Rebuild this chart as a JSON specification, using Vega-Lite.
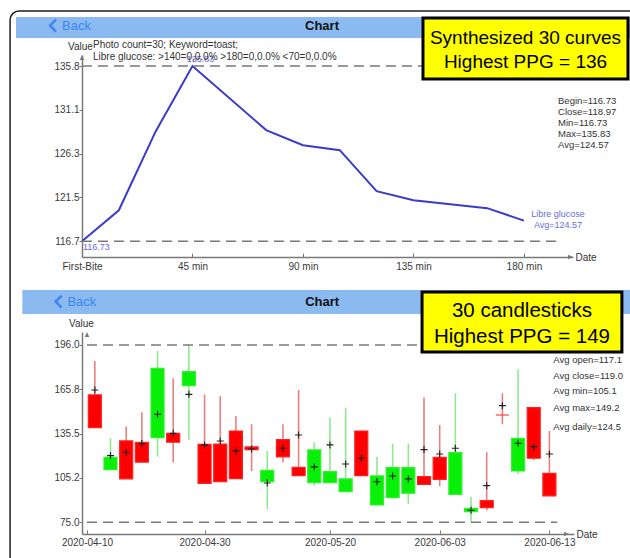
{
  "$schema": "https://vega.github.io/schema/vega-lite/v6.json",
  "autosize": {"type": "none"},
  "padding": {"left": 82, "top": 55, "right": 548, "bottom": 503},
  "background": "white",
  "bounds": "flush",
  "spacing": 75,
  "config": {
    "view": {"stroke": null},
    "font": "Liberation Sans",
    "text": {"font": "Liberation Sans"},
    "axis": {
      "grid": false, "domainColor": "#7a7a7a", "domainWidth": 1.5, "tickColor": "#7a7a7a", "tickWidth": 1,
      "labelColor": "#3a3a3a", "labelFontSize": 10, "labelFont": "Liberation Sans", "labelFlush": false, "labelOverlap": false,
      "titleFont": "Liberation Sans", "titleFontSize": 10, "titleFontWeight": "normal", "titleColor": "#333333"
    }
  },
  "datasets": {
    "glucose": [
      {"minute": 0, "glucose": 116.73},
      {"minute": 15, "glucose": 120.1},
      {"minute": 30, "glucose": 128.7},
      {"minute": 45, "glucose": 135.83},
      {"minute": 75, "glucose": 128.85},
      {"minute": 90, "glucose": 127.2},
      {"minute": 105, "glucose": 126.66},
      {"minute": 120, "glucose": 122.19},
      {"minute": 135, "glucose": 121.2},
      {"minute": 165, "glucose": 120.33},
      {"minute": 180, "glucose": 118.97}
    ],
    "candles": [
      {"k": 0, "open": 139.6, "close": 161.9, "high": 185.1, "low": 139.6, "avg": 165.3},
      {"k": 1, "open": 119.3, "close": 110.9, "high": 132.3, "low": 110.9, "avg": 120.5},
      {"k": 2, "open": 104.6, "close": 130.5, "high": 140.3, "low": 104.6, "avg": 122.8},
      {"k": 3, "open": 116.0, "close": 129.6, "high": 150.1, "low": 116.0, "avg": 128.7},
      {"k": 4, "open": 180.1, "close": 132.8, "high": 191.9, "low": 119.8, "avg": 148.7},
      {"k": 5, "open": 129.6, "close": 135.7, "high": 173.3, "low": 116.0, "avg": 135.7},
      {"k": 6, "open": 177.8, "close": 168.3, "high": 196.0, "low": 131.2, "avg": 162.3},
      {"k": 7, "open": 101.6, "close": 128.2, "high": 162.3, "low": 101.6, "avg": 127.8},
      {"k": 8, "open": 102.7, "close": 128.4, "high": 161.2, "low": 102.7, "avg": 130.5},
      {"k": 9, "open": 104.8, "close": 137.3, "high": 147.6, "low": 104.8, "avg": 123.7},
      {"k": 10, "open": 124.6, "close": 126.4, "high": 141.9, "low": 110.0, "avg": 125.0},
      {"k": 11, "open": 110.5, "close": 102.7, "high": 123.7, "low": 84.1, "avg": 101.8},
      {"k": 12, "open": 119.6, "close": 131.4, "high": 141.9, "low": 116.0, "avg": 125.5},
      {"k": 13, "open": 106.8, "close": 112.5, "high": 165.3, "low": 106.8, "avg": 134.6},
      {"k": 14, "open": 124.4, "close": 102.1, "high": 129.6, "low": 100.0, "avg": 112.8},
      {"k": 15, "open": 109.6, "close": 102.1, "high": 146.4, "low": 102.1, "avg": 127.8},
      {"k": 16, "open": 104.6, "close": 95.9, "high": 153.2, "low": 95.9, "avg": 114.8},
      {"k": 17, "open": 106.8, "close": 137.3, "high": 137.3, "low": 106.8, "avg": 118.7},
      {"k": 18, "open": 106.6, "close": 86.8, "high": 119.8, "low": 86.8, "avg": 102.7},
      {"k": 19, "open": 112.3, "close": 91.8, "high": 128.7, "low": 91.8, "avg": 106.6},
      {"k": 20, "open": 112.3, "close": 94.8, "high": 128.7, "low": 87.5, "avg": 104.6},
      {"k": 21, "open": 100.9, "close": 106.2, "high": 160.1, "low": 100.9, "avg": 124.6},
      {"k": 22, "open": 104.3, "close": 119.3, "high": 141.4, "low": 99.6, "avg": 121.6},
      {"k": 23, "open": 122.5, "close": 94.1, "high": 163.0, "low": 94.1, "avg": 125.5},
      {"k": 24, "open": 84.5, "close": 82.3, "high": 92.5, "low": 75.0, "avg": 83.2},
      {"k": 25, "open": 85.0, "close": 89.8, "high": 122.8, "low": 83.2, "avg": 100.0},
      {"k": 26, "open": 148.2, "close": 148.2, "high": 163.0, "low": 141.9, "avg": 154.6},
      {"k": 27, "open": 132.3, "close": 110.0, "high": 179.4, "low": 107.7, "avg": 128.9},
      {"k": 28, "open": 118.7, "close": 153.2, "high": 153.2, "low": 117.5, "avg": 126.6},
      {"k": 29, "open": 93.0, "close": 108.4, "high": 137.3, "low": 93.0, "avg": 121.6}
    ]
  },
  "vconcat": [
    {
      "width": 491,
      "height": 202,
      "layer": [
        {
          "data": {"name": "glucose"},
          "mark": {"type": "line", "color": "#3b3bc9", "strokeWidth": 2},
          "encoding": {
            "x": {"field": "minute", "type": "quantitative", "scale": {"domain": [0, 200], "nice": false, "zero": false},
              "axis": {"values": [0, 45, 90, 135, 180], "labelExpr": "datum.value == 0 ? 'First-Bite' : datum.value + ' min'", "tickSize": -4, "labelPadding": 8,
                "title": "Date", "titleX": 493, "titleY": 0, "titleAlign": "left", "titleBaseline": "middle", "titleAngle": 0}},
            "y": {"field": "glucose", "type": "quantitative", "scale": {"domain": [115, 137.04], "nice": false, "zero": false},
              "axis": {"values": [116.73, 121.505, 126.28, 131.055, 135.83], "format": ".1f", "tickSize": 3, "labelPadding": 0,
                "title": "Value", "titleX": -2, "titleY": -4, "titleAlign": "center", "titleBaseline": "bottom", "titleAngle": 0}}
          }
        },
        {
          "data": {"values": [{"x1": -29.3, "x2": 232, "y1": 79, "y2": 141.84}]},
          "mark": {"type": "rect", "fillOpacity": 0, "stroke": "#1e1e1e", "strokeWidth": 1.5, "cornerRadius": 9},
          "encoding": {
            "x": {"field": "x1", "type": "quantitative", "scale": {"domain": [0, 200], "nice": false, "zero": false}},
            "x2": {"field": "x2"},
            "y": {"field": "y1", "type": "quantitative", "scale": {"domain": [115, 137.04], "nice": false, "zero": false}},
            "y2": {"field": "y2"}
          }
        },
        {
          "data": {"values": [{"x1": -26.88, "x2": 232, "y1": 138.89, "y2": 141.18}]},
          "mark": {"type": "rect", "color": "#8abaf0"},
          "encoding": {
            "x": {"field": "x1", "type": "quantitative", "scale": {"domain": [0, 200], "nice": false, "zero": false}},
            "x2": {"field": "x2"},
            "y": {"field": "y1", "type": "quantitative", "scale": {"domain": [115, 137.04], "nice": false, "zero": false}},
            "y2": {"field": "y2"}
          }
        },
        {
          "data": {"values": [{"x": -11.81, "y": 140.25}]},
          "mark": {"type": "point", "shape": "M0.5,-1L-0.5,0L0.5,1", "size": 144, "filled": false, "stroke": "#3d85f0", "strokeWidth": 2.5, "opacity": 1},
          "encoding": {
            "x": {"field": "x", "type": "quantitative", "scale": {"domain": [0, 200], "nice": false, "zero": false}},
            "y": {"field": "y", "type": "quantitative", "scale": {"domain": [115, 137.04], "nice": false, "zero": false}}
          }
        },
        {
          "data": {"values": [{"x": -8.15, "y": 140.25, "label": "Back"}]},
          "mark": {"type": "text", "align": "left", "baseline": "middle", "fontSize": 13, "color": "#3d85f0"},
          "encoding": {
            "x": {"field": "x", "type": "quantitative", "scale": {"domain": [0, 200], "nice": false, "zero": false}},
            "y": {"field": "y", "type": "quantitative", "scale": {"domain": [115, 137.04], "nice": false, "zero": false}},
            "text": {"field": "label"}
          }
        },
        {
          "data": {"values": [{"x": 97.76, "y": 140.25, "label": "Chart"}]},
          "mark": {"type": "text", "align": "center", "baseline": "middle", "fontSize": 13, "fontWeight": "bold", "color": "#111111"},
          "encoding": {
            "x": {"field": "x", "type": "quantitative", "scale": {"domain": [0, 200], "nice": false, "zero": false}},
            "y": {"field": "y", "type": "quantitative", "scale": {"domain": [115, 137.04], "nice": false, "zero": false}},
            "text": {"field": "label"}
          }
        },
        {
          "data": {"values": [{"level": 135.83}, {"level": 116.73}]},
          "mark": {"type": "rule", "strokeDash": [10, 6], "color": "#7a7a7a", "strokeWidth": 1.5},
          "encoding": {
            "x": {"datum": 0, "type": "quantitative", "scale": {"domain": [0, 200], "nice": false, "zero": false}},
            "x2": {"datum": 194.7},
            "y": {"field": "level", "type": "quantitative", "scale": {"domain": [115, 137.04], "nice": false, "zero": false}}
          }
        },
        {
          "data": {"name": "glucose"},
          "transform": [{"filter": "datum.minute == 45"}],
          "mark": {"type": "text", "dx": 8, "dy": -7, "align": "center", "baseline": "middle", "fontSize": 9, "color": "#6a6adc"},
          "encoding": {
            "x": {"field": "minute", "type": "quantitative", "scale": {"domain": [0, 200], "nice": false, "zero": false}},
            "y": {"field": "glucose", "type": "quantitative", "scale": {"domain": [115, 137.04], "nice": false, "zero": false}},
            "text": {"field": "glucose", "format": ".2f"}
          }
        },
        {
          "data": {"name": "glucose"},
          "transform": [{"filter": "datum.minute == 0"}],
          "mark": {"type": "text", "dx": 1, "dy": 6, "align": "left", "baseline": "middle", "fontSize": 9, "color": "#6a6adc"},
          "encoding": {
            "x": {"field": "minute", "type": "quantitative", "scale": {"domain": [0, 200], "nice": false, "zero": false}},
            "y": {"field": "glucose", "type": "quantitative", "scale": {"domain": [115, 137.04], "nice": false, "zero": false}},
            "text": {"field": "glucose", "format": ".2f"}
          }
        },
        {
          "data": {"values": [{"x": 193.9, "y": 119.31, "label": "Libre glucose\nAvg=124.57"}]},
          "mark": {"type": "text", "align": "center", "baseline": "alphabetic", "lineBreak": "\n", "lineHeight": 10.5, "fontSize": 9, "color": "#6a6adc"},
          "encoding": {
            "x": {"field": "x", "type": "quantitative", "scale": {"domain": [0, 200], "nice": false, "zero": false}},
            "y": {"field": "y", "type": "quantitative", "scale": {"domain": [115, 137.04], "nice": false, "zero": false}},
            "text": {"field": "label"}
          }
        },
        {
          "data": {"values": [{"x": 4.48, "y": 137.8, "label": "Photo count=30; Keyword=toast;\nLibre glucose: >140=0,0.0%  >180=0,0.0%  <70=0,0.0%"}]},
          "mark": {"type": "text", "align": "left", "baseline": "alphabetic", "lineBreak": "\n", "lineHeight": 11.6, "fontSize": 10, "color": "#333333"},
          "encoding": {
            "x": {"field": "x", "type": "quantitative", "scale": {"domain": [0, 200], "nice": false, "zero": false}},
            "y": {"field": "y", "type": "quantitative", "scale": {"domain": [115, 137.04], "nice": false, "zero": false}},
            "text": {"field": "label"}
          }
        },
        {
          "data": {"values": [{"x": 193.9, "y": 131.64, "label": "Begin=116.73\nClose=118.97\nMin=116.73\nMax=135.83\nAvg=124.57"}]},
          "mark": {"type": "text", "align": "left", "baseline": "alphabetic", "lineBreak": "\n", "lineHeight": 11, "fontSize": 9.5, "color": "#333333"},
          "encoding": {
            "x": {"field": "x", "type": "quantitative", "scale": {"domain": [0, 200], "nice": false, "zero": false}},
            "y": {"field": "y", "type": "quantitative", "scale": {"domain": [115, 137.04], "nice": false, "zero": false}},
            "text": {"field": "label"}
          }
        },
        {
          "data": {"values": [{"x1": 138.9, "x2": 222.4, "y1": 134.42, "y2": 141.07}]},
          "mark": {"type": "rect", "color": "#ffff00", "stroke": "#000000", "strokeWidth": 3},
          "encoding": {
            "x": {"field": "x1", "type": "quantitative", "scale": {"domain": [0, 200], "nice": false, "zero": false}},
            "x2": {"field": "x2"},
            "y": {"field": "y1", "type": "quantitative", "scale": {"domain": [115, 137.04], "nice": false, "zero": false}},
            "y2": {"field": "y2"}
          }
        },
        {
          "data": {"values": [{"x": 180.65, "y": 138.24, "label": "Synthesized 30 curves\nHighest PPG = 136"}]},
          "mark": {"type": "text", "align": "center", "baseline": "alphabetic", "lineBreak": "\n", "lineHeight": 23.7, "fontSize": 19, "color": "#000000"},
          "encoding": {
            "x": {"field": "x", "type": "quantitative", "scale": {"domain": [0, 200], "nice": false, "zero": false}},
            "y": {"field": "y", "type": "quantitative", "scale": {"domain": [115, 137.04], "nice": false, "zero": false}},
            "text": {"field": "label"}
          }
        },
        {
          "data": {"values": [{"x": 200, "y": 115}]},
          "mark": {"type": "point", "shape": "M0,0L-1,-0.45L-1,0.45Z", "size": 100, "filled": true, "color": "#7a7a7a", "opacity": 1},
          "encoding": {
            "x": {"field": "x", "type": "quantitative", "scale": {"domain": [0, 200], "nice": false, "zero": false}},
            "y": {"field": "y", "type": "quantitative", "scale": {"domain": [115, 137.04], "nice": false, "zero": false}}
          }
        },
        {
          "data": {"values": [{"x": 0, "y": 137.04}]},
          "mark": {"type": "point", "shape": "M0,0L-0.45,1L0.45,1Z", "size": 100, "filled": true, "color": "#7a7a7a", "opacity": 1},
          "encoding": {
            "x": {"field": "x", "type": "quantitative", "scale": {"domain": [0, 200], "nice": false, "zero": false}},
            "y": {"field": "y", "type": "quantitative", "scale": {"domain": [115, 137.04], "nice": false, "zero": false}}
          }
        }
      ]
    },
    {
      "width": 492,
      "height": 202,
      "layer": [
        {
          "data": {"name": "candles"},
          "mark": {"type": "rule", "strokeWidth": 1.6},
          "encoding": {
            "x": {"field": "k", "type": "quantitative", "scale": {"domain": [-0.5, 30.25], "nice": false, "zero": false},
              "axis": {"values": [-0.5, 7, 15, 22, 29], "labelExpr": "datum.value == -0.5 ? '2020-04-10' : datum.value == 7 ? '2020-04-30' : datum.value == 15 ? '2020-05-20' : datum.value == 22 ? '2020-06-03' : '2020-06-13'",
                "tickSize": -4, "labelPadding": 7,
                "title": "Date", "titleX": 494, "titleY": 0, "titleAlign": "left", "titleBaseline": "middle", "titleAngle": 0}},
            "y": {"field": "low", "type": "quantitative", "scale": {"domain": [67, 204.85], "nice": false, "zero": false},
              "axis": {"values": [75, 105.24, 135.5, 165.76, 196], "format": ".1f", "tickSize": 3, "labelPadding": 0,
                "title": "Value", "titleX": -1, "titleY": -4, "titleAlign": "center", "titleBaseline": "bottom", "titleAngle": 0}},
            "y2": {"field": "high"},
            "color": {"condition": {"test": "datum.close >= datum.open", "value": "#e88080"}, "value": "#90e890"}
          }
        },
        {
          "data": {"values": [{"x1": -4.625, "x2": 35, "y1": 217.12, "y2": 233.5}]},
          "mark": {"type": "rect", "color": "#8abaf0"},
          "encoding": {
            "x": {"field": "x1", "type": "quantitative", "scale": {"domain": [-0.5, 30.25], "nice": false, "zero": false}},
            "x2": {"field": "x2"},
            "y": {"field": "y1", "type": "quantitative", "scale": {"domain": [67, 204.85], "nice": false, "zero": false}},
            "y2": {"field": "y2"}
          }
        },
        {
          "data": {"values": [{"x": -2.3125, "y": 225.65}]},
          "mark": {"type": "point", "shape": "M0.5,-1L-0.5,0L0.5,1", "size": 144, "filled": false, "stroke": "#3d85f0", "strokeWidth": 2.5, "opacity": 1},
          "encoding": {
            "x": {"field": "x", "type": "quantitative", "scale": {"domain": [-0.5, 30.25], "nice": false, "zero": false}},
            "y": {"field": "y", "type": "quantitative", "scale": {"domain": [67, 204.85], "nice": false, "zero": false}}
          }
        },
        {
          "data": {"values": [{"x": -1.75, "y": 225.65, "label": "Back"}]},
          "mark": {"type": "text", "align": "left", "baseline": "middle", "fontSize": 13, "color": "#3d85f0"},
          "encoding": {
            "x": {"field": "x", "type": "quantitative", "scale": {"domain": [-0.5, 30.25], "nice": false, "zero": false}},
            "y": {"field": "y", "type": "quantitative", "scale": {"domain": [67, 204.85], "nice": false, "zero": false}},
            "text": {"field": "label"}
          }
        },
        {
          "data": {"values": [{"x": 14.5, "y": 225.65, "label": "Chart"}]},
          "mark": {"type": "text", "align": "center", "baseline": "middle", "fontSize": 13, "fontWeight": "bold", "color": "#111111"},
          "encoding": {
            "x": {"field": "x", "type": "quantitative", "scale": {"domain": [-0.5, 30.25], "nice": false, "zero": false}},
            "y": {"field": "y", "type": "quantitative", "scale": {"domain": [67, 204.85], "nice": false, "zero": false}},
            "text": {"field": "label"}
          }
        },
        {
          "data": {"values": [{"level": 196}, {"level": 75}]},
          "mark": {"type": "rule", "strokeDash": [10, 6], "color": "#7a7a7a", "strokeWidth": 1.5},
          "encoding": {
            "x": {"datum": -0.5, "type": "quantitative", "scale": {"domain": [-0.5, 30.25], "nice": false, "zero": false}},
            "x2": {"datum": 29.5},
            "y": {"field": "level", "type": "quantitative", "scale": {"domain": [67, 204.85], "nice": false, "zero": false}}
          }
        },
        {
          "data": {"name": "candles"},
          "mark": {"type": "bar", "size": 13, "strokeWidth": 1.2},
          "encoding": {
            "x": {"field": "k", "type": "quantitative", "scale": {"domain": [-0.5, 30.25], "nice": false, "zero": false}},
            "y": {"field": "open", "type": "quantitative", "scale": {"domain": [67, 204.85], "nice": false, "zero": false}},
            "y2": {"field": "close"},
            "color": {"condition": {"test": "datum.close >= datum.open", "value": "#ff0000"}, "value": "#08f008"},
            "stroke": {"condition": {"test": "datum.close >= datum.open", "value": "#ff2020"}, "value": "#30f030"}
          }
        },
        {
          "data": {"name": "candles"},
          "mark": {"type": "point", "shape": "M-1,0H1M0,-1V1", "size": 49, "filled": false, "stroke": "#222222", "strokeWidth": 1.1, "opacity": 1},
          "encoding": {
            "x": {"field": "k", "type": "quantitative", "scale": {"domain": [-0.5, 30.25], "nice": false, "zero": false}},
            "y": {"field": "avg", "type": "quantitative", "scale": {"domain": [67, 204.85], "nice": false, "zero": false}}
          }
        },
        {
          "data": {"values": [
            {"x": 29.25, "y": 185.73, "label": "Avg open=117.1"},
            {"x": 29.25, "y": 175.02, "label": "Avg close=119.0"},
            {"x": 29.25, "y": 164.58, "label": "Avg min=105.1"},
            {"x": 29.25, "y": 153.18, "label": "Avg max=149.2"},
            {"x": 29.25, "y": 140.22, "label": "Avg daily=124.5"}
          ]},
          "mark": {"type": "text", "align": "left", "baseline": "middle", "fontSize": 9.5, "color": "#333333"},
          "encoding": {
            "x": {"field": "x", "type": "quantitative", "scale": {"domain": [-0.5, 30.25], "nice": false, "zero": false}},
            "y": {"field": "y", "type": "quantitative", "scale": {"domain": [67, 204.85], "nice": false, "zero": false}},
            "text": {"field": "label"}
          }
        },
        {
          "data": {"values": [{"x1": 20.875, "x2": 33.625, "y1": 191.19, "y2": 232.13}]},
          "mark": {"type": "rect", "color": "#ffff00", "stroke": "#000000", "strokeWidth": 3},
          "encoding": {
            "x": {"field": "x1", "type": "quantitative", "scale": {"domain": [-0.5, 30.25], "nice": false, "zero": false}},
            "x2": {"field": "x2"},
            "y": {"field": "y1", "type": "quantitative", "scale": {"domain": [67, 204.85], "nice": false, "zero": false}},
            "y2": {"field": "y2"}
          }
        },
        {
          "data": {"values": [{"x": 27.25, "y": 215.28, "label": "30 candlesticks\nHighest PPG = 149"}]},
          "mark": {"type": "text", "align": "center", "baseline": "alphabetic", "lineBreak": "\n", "lineHeight": 26, "fontSize": 20.5, "color": "#000000"},
          "encoding": {
            "x": {"field": "x", "type": "quantitative", "scale": {"domain": [-0.5, 30.25], "nice": false, "zero": false}},
            "y": {"field": "y", "type": "quantitative", "scale": {"domain": [67, 204.85], "nice": false, "zero": false}},
            "text": {"field": "label"}
          }
        },
        {
          "data": {"values": [{"x": 30.25, "y": 67}]},
          "mark": {"type": "point", "shape": "M0,0L-1,-0.45L-1,0.45Z", "size": 100, "filled": true, "color": "#7a7a7a", "opacity": 1},
          "encoding": {
            "x": {"field": "x", "type": "quantitative", "scale": {"domain": [-0.5, 30.25], "nice": false, "zero": false}},
            "y": {"field": "y", "type": "quantitative", "scale": {"domain": [67, 204.85], "nice": false, "zero": false}}
          }
        },
        {
          "data": {"values": [{"x": -0.5, "y": 204.85}]},
          "mark": {"type": "point", "shape": "M0,0L-0.45,1L0.45,1Z", "size": 100, "filled": true, "color": "#7a7a7a", "opacity": 1},
          "encoding": {
            "x": {"field": "x", "type": "quantitative", "scale": {"domain": [-0.5, 30.25], "nice": false, "zero": false}},
            "y": {"field": "y", "type": "quantitative", "scale": {"domain": [67, 204.85], "nice": false, "zero": false}}
          }
        }
      ]
    }
  ]
}
